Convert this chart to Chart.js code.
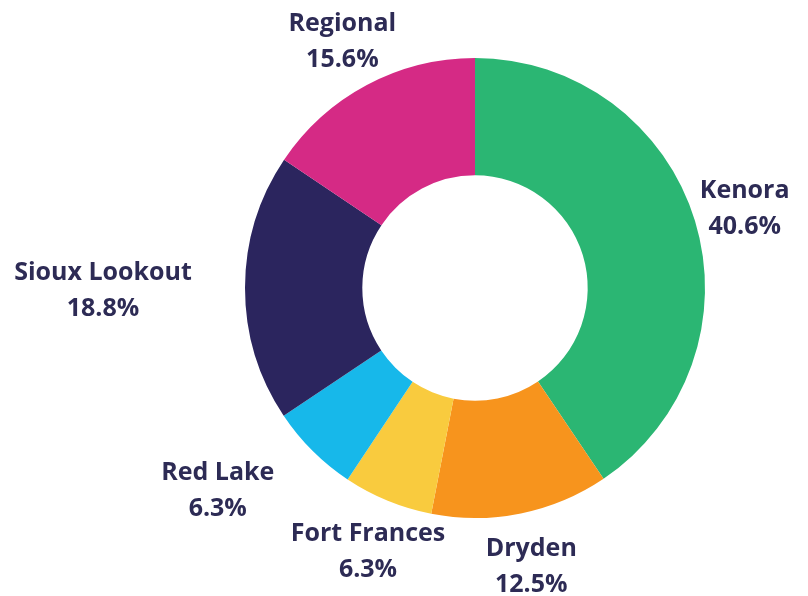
<!DOCTYPE html>
<html>
<head>
<meta charset="utf-8">
<script src="https://cdn.jsdelivr.net/npm/chart.js@4"></script>
<style>
  html, body { margin: 0; padding: 0; background: #ffffff; }
  #wrap { width: 808px; height: 596px; }
</style>
</head>
<body>
<div id="wrap"><canvas id="regionChart" width="808" height="596"></canvas></div>
<script>
// Chart data
const regions = ['Kenora', 'Dryden', 'Fort Frances', 'Red Lake', 'Sioux Lookout', 'Regional'];
const shares = [40.6, 12.5, 6.3, 6.3, 18.8, 15.6];
const sliceColors = ['#2bb673', '#f7941d', '#f9cb3e', '#17b8ea', '#2b255e', '#d52a85'];

// Nudges for labels that would otherwise collide with the ring or each other
const labelNudge = {
    'Sioux Lookout': [-90, 0],
    'Red Lake': [-58, 0]
};

const outsideLabels = {
    id: 'outsideLabels',
    afterDatasetsDraw(chart) {
        const ctx = chart.ctx;
        const meta = chart.getDatasetMeta(0);
        ctx.save();
        ctx.font = 'bold 25px "Open Sans"';
        ctx.fillStyle = '#2d2b55';
        ctx.textAlign = 'center';
        ctx.textBaseline = 'middle';
        meta.data.forEach((arc, i) => {
            const mid = (arc.startAngle + arc.endAngle) / 2;
            const d = arc.outerRadius + 52;
            let x = arc.x + Math.cos(mid) * d;
            let y = arc.y + Math.sin(mid) * d + 3;
            const nudge = labelNudge[regions[i]];
            if (nudge) {
                x += nudge[0];
                y += nudge[1];
            }
            ctx.fillText(regions[i], x, y - 18);
            ctx.fillText(shares[i].toFixed(1) + '%', x, y + 18);
        });
        ctx.restore();
    }
};

const ctx = document.getElementById('regionChart').getContext('2d');
new Chart(ctx, {
    type: 'doughnut',
    data: {
        labels: regions,
        datasets: [{
            data: shares,
            backgroundColor: sliceColors,
            borderWidth: 0
        }]
    },
    options: {
        responsive: false,
        animation: false,
        cutout: '49%',
        layout: {
            padding: { left: 245, right: 103, top: 58, bottom: 78 }
        },
        plugins: {
            legend: { display: false },
            tooltip: { enabled: false }
        }
    },
    plugins: [outsideLabels]
});
</script>
</body>
</html>
